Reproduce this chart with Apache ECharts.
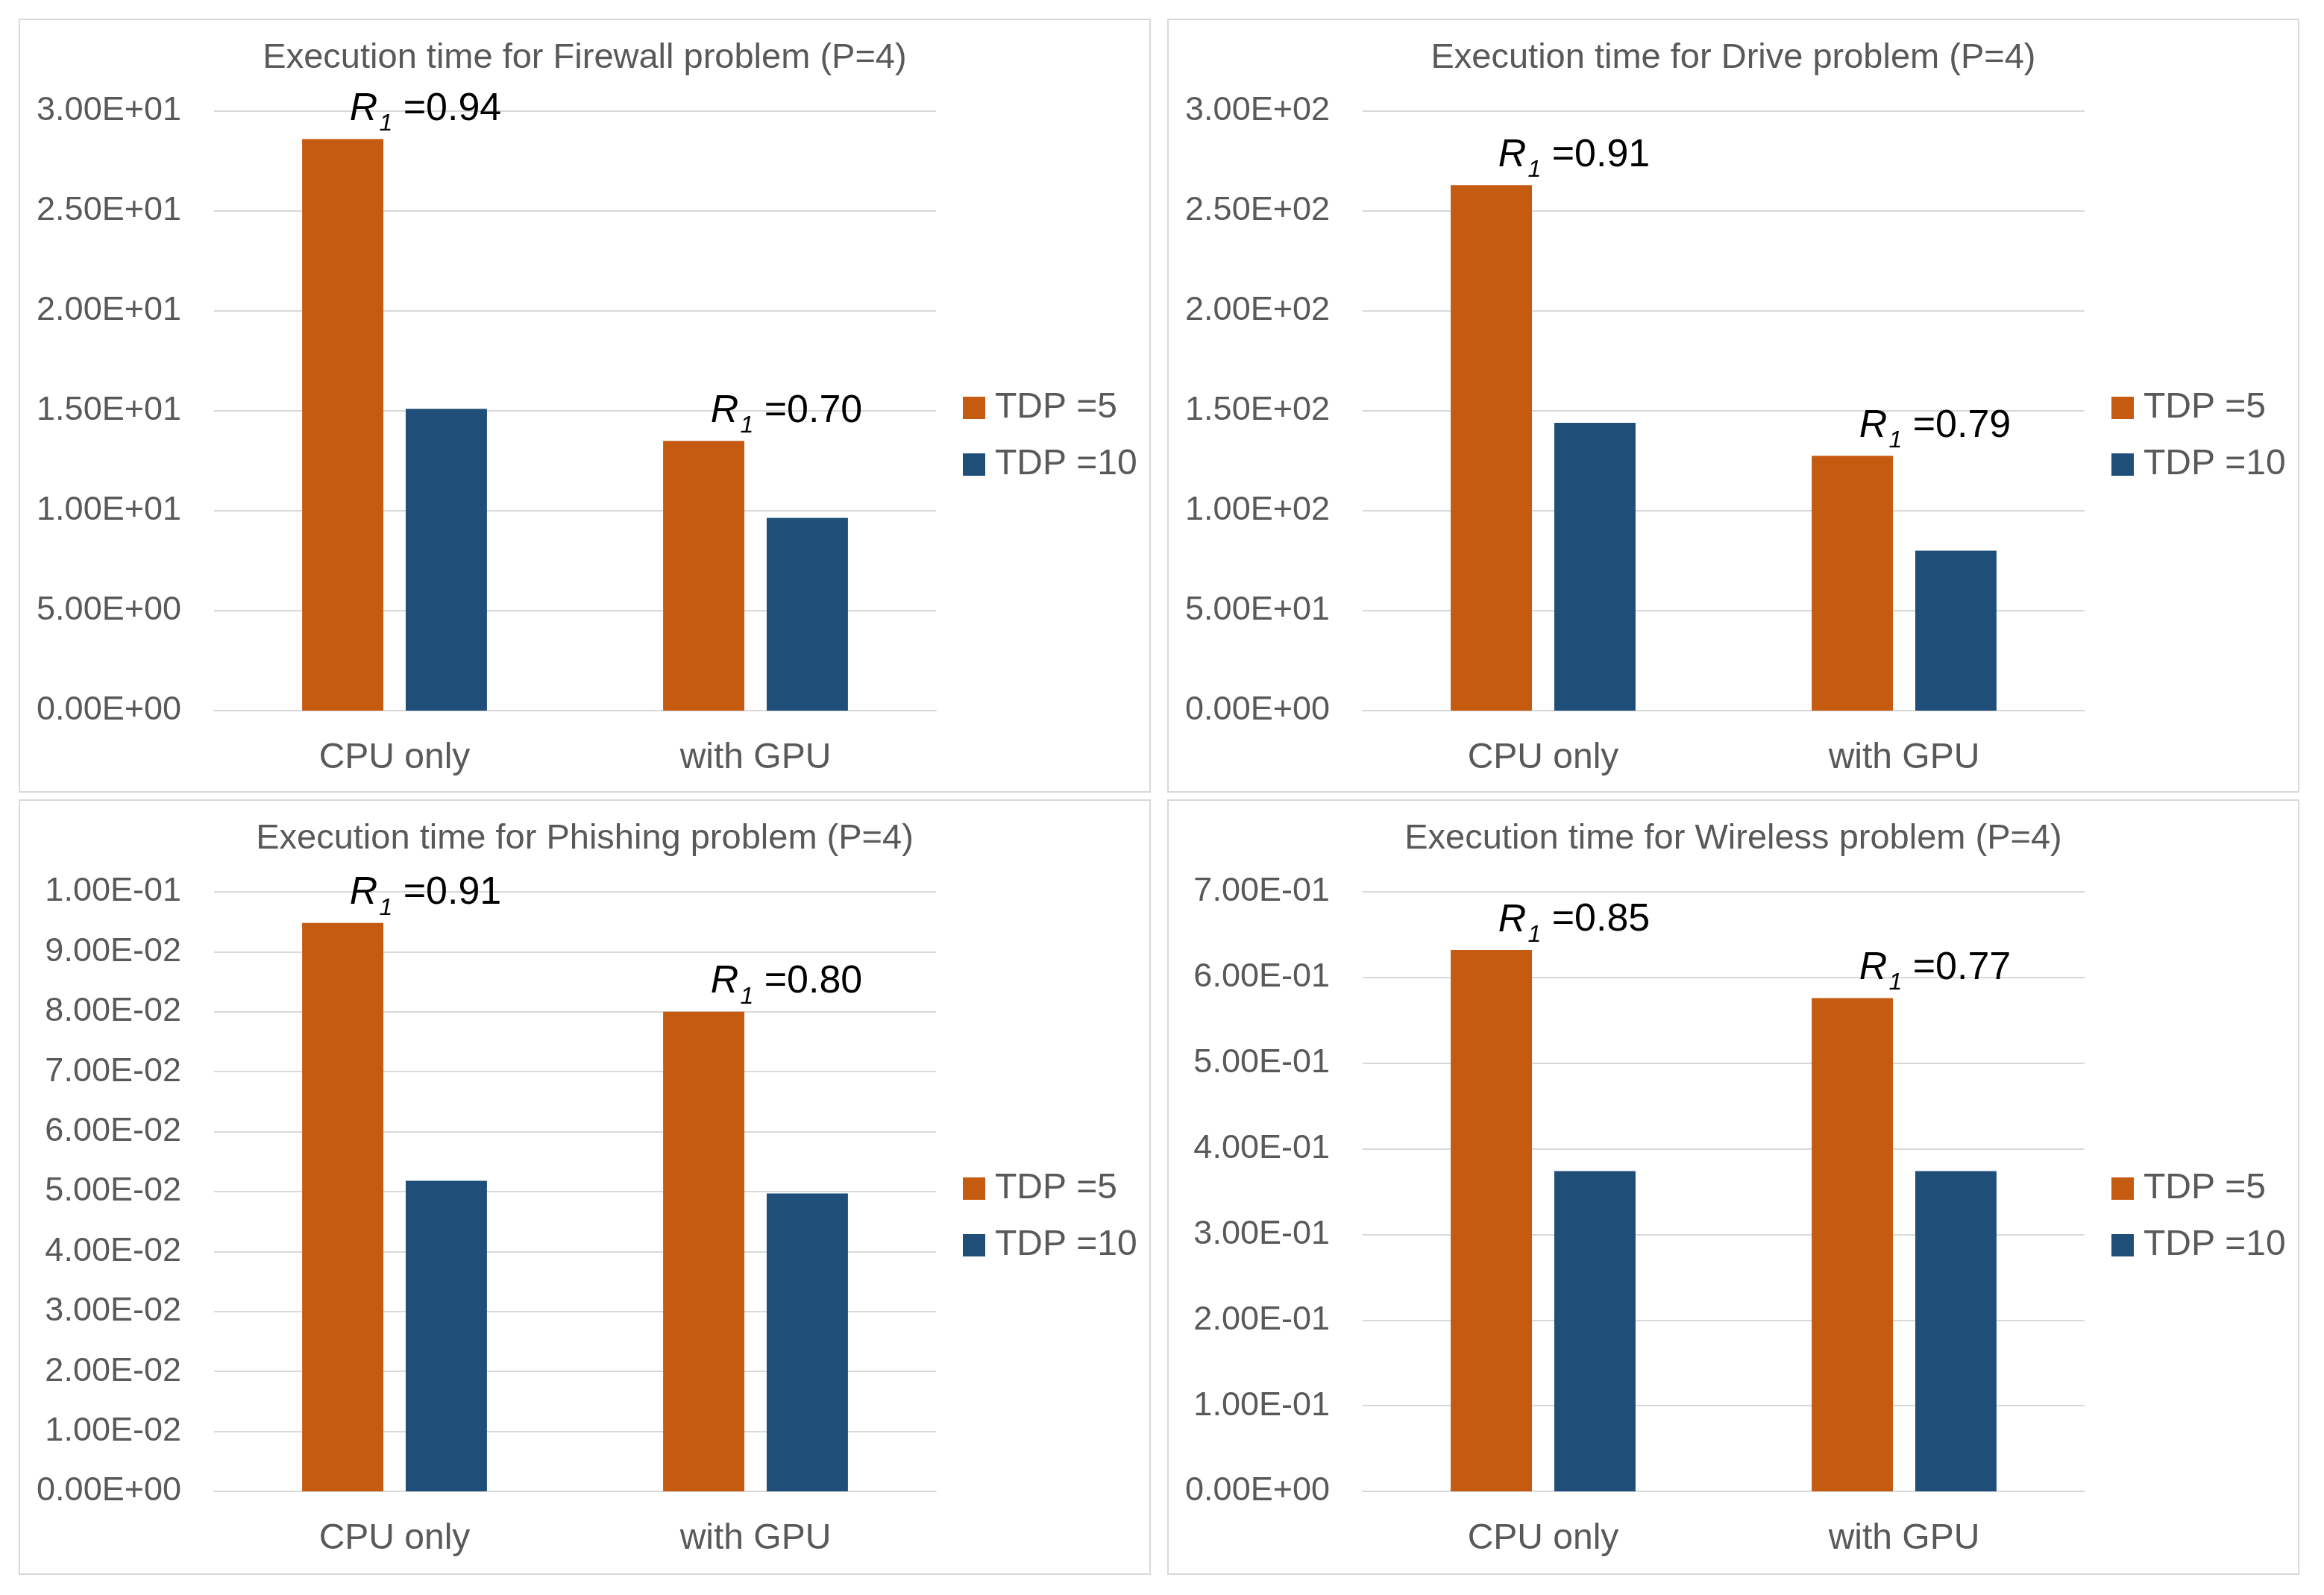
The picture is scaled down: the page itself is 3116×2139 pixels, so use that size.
<!DOCTYPE html>
<html>
<head>
<meta charset="utf-8">
<script src="https://cdn.jsdelivr.net/npm/echarts@6/dist/echarts.min.js"></script>
<style>
  html, body { margin: 0; padding: 0; background: #ffffff; }
  body { width: 3116px; height: 2139px; position: relative; overflow: hidden; }
  .panel { position: absolute; box-sizing: border-box; border: 2px solid #d9d9d9; background: #fff; }
  .panel > div { width: 100%; height: 100%; }
</style>
</head>
<body>
<div class="panel" style="left:25px;top:25px;width:1518px;height:1038px"><div id="c0"></div></div>
<div class="panel" style="left:1565px;top:25px;width:1518px;height:1038px"><div id="c1"></div></div>
<div class="panel" style="left:25px;top:1072px;width:1518px;height:1040px"><div id="c2"></div></div>
<div class="panel" style="left:1565px;top:1072px;width:1518px;height:1040px"><div id="c3"></div></div>
<script>
// ---------------- data ----------------
const categories = ['CPU only', 'with GPU'];
const seriesNames = ['TDP =5', 'TDP =10'];

const titles = [
  'Execution time for Firewall problem (P=4)',
  'Execution time for Drive problem (P=4)',
  'Execution time for Phishing problem (P=4)',
  'Execution time for Wireless problem (P=4)'
];

const firewallTdp5  = [28.6, 13.5];
const firewallTdp10 = [15.1, 9.65];
const driveTdp5     = [263, 127.5];
const driveTdp10    = [144, 80];
const phishingTdp5  = [0.0948, 0.0800];
const phishingTdp10 = [0.0518, 0.0497];
const wirelessTdp5  = [0.632, 0.576];
const wirelessTdp10 = [0.374, 0.374];

const firewallR1 = ['0.94', '0.70'];
const driveR1    = ['0.91', '0.79'];
const phishingR1 = ['0.91', '0.80'];
const wirelessR1 = ['0.85', '0.77'];

const yMax      = [30, 300, 0.1, 0.7];
const yInterval = [5, 50, 0.01, 0.1];

// ---------------- helpers ----------------
const FONT = "'Liberation Sans', Arial, sans-serif";
const GREY = '#595959';
const ORANGE = '#C55A11';
const BLUE = '#1F4E79';

function sci(v) {
  if (Math.abs(v) < 1e-12) return '0.00E+00';
  const s = Number(v).toExponential(2);
  const parts = s.split('e');
  const e = parseInt(parts[1], 10);
  return parts[0] + 'E' + (e < 0 ? '-' : '+') + String(Math.abs(e)).padStart(2, '0');
}

function makeOption(title, t5, t10, r1, max, interval) {
  return {
    animation: false,
    backgroundColor: '#ffffff',
    title: {
      text: title,
      left: 'center',
      top: 22,
      textStyle: { fontFamily: FONT, fontSize: 47, fontWeight: 'normal', color: GREY, lineHeight: 48 }
    },
    legend: {
      orient: 'vertical',
      left: 1259,
      top: 491,
      itemWidth: 30,
      itemHeight: 30,
      itemGap: 28,
      icon: 'rect',
      data: seriesNames,
      textStyle: { fontFamily: FONT, fontSize: 48, color: GREY, padding: [0, 0, 0, 8] }
    },
    grid: { left: 260, top: 122, width: 968, height: 804, containLabel: false, outerBoundsMode: 'none' },
    xAxis: {
      type: 'category',
      data: categories,
      axisTick: { show: false },
      axisLine: { show: true, lineStyle: { color: '#d9d9d9', width: 2 } },
      axisLabel: { fontFamily: FONT, fontSize: 48, color: GREY, margin: 40, lineHeight: 48 }
    },
    yAxis: {
      type: 'value',
      min: 0,
      max: max,
      interval: interval,
      axisLine: { show: false },
      axisTick: { show: false },
      splitLine: { lineStyle: { color: '#d9d9d9', width: 2 } },
      axisLabel: { fontFamily: FONT, fontSize: 45, color: GREY, margin: 44, formatter: sci }
    },
    series: [
      {
        name: seriesNames[0],
        type: 'bar',
        data: t5,
        barCategoryGap: '48.8%',
        barGap: '27.5%',
        itemStyle: { color: ORANGE },
        label: {
          show: true,
          position: 'top',
          distance: 10,
          offset: [111, 0],
          formatter: function (p) { return '{i|R}{s|1}{n| =' + r1[p.dataIndex] + '}'; },
          rich: {
            i: { fontFamily: FONT, fontStyle: 'italic', fontSize: 52, color: '#000', lineHeight: 60 },
            s: { fontFamily: FONT, fontStyle: 'italic', fontSize: 32, color: '#000', lineHeight: 32, padding: [40, 0, 0, 2] },
            n: { fontFamily: FONT, fontSize: 52, color: '#000', lineHeight: 60 }
          }
        }
      },
      {
        name: seriesNames[1],
        type: 'bar',
        data: t10,
        barCategoryGap: '48.8%',
        barGap: '27.5%',
        itemStyle: { color: BLUE }
      }
    ]
  };
}

const panels = [
  [titles[0], firewallTdp5, firewallTdp10, firewallR1],
  [titles[1], driveTdp5, driveTdp10, driveR1],
  [titles[2], phishingTdp5, phishingTdp10, phishingR1],
  [titles[3], wirelessTdp5, wirelessTdp10, wirelessR1]
];

panels.forEach(function (p, i) {
  const chart = echarts.init(document.getElementById('c' + i), null, { renderer: 'canvas' });
  chart.setOption(makeOption(p[0], p[1], p[2], p[3], yMax[i], yInterval[i]));
});
</script>
</body>
</html>
